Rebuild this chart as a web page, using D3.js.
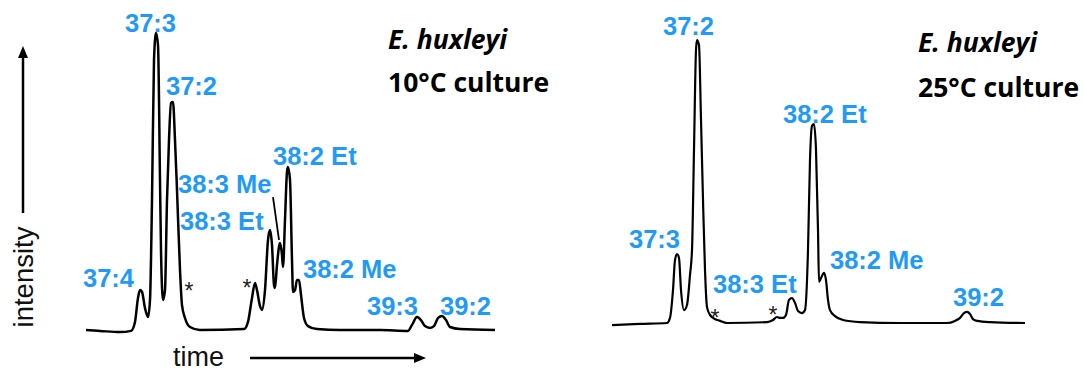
<!DOCTYPE html>
<html>
<head>
<meta charset="utf-8">
<script src="https://cdn.jsdelivr.net/npm/d3@7"></script>
<style>
  body { margin: 0; background: #fff; }
  svg { display: block; }
</style>
</head>
<body>
<div id="chart"></div>
<script>
// 10°C culture trace (time, intensity)
var coldTime = [0, 1.4, 3.4, 4.5, 4.9, 5.2, 5.4, 5.6, 5.9, 6.2, 6.4, 6.6, 6.8, 7.0, 7.2, 7.4, 7.5, 7.7, 7.9,
  8.1, 8.3, 8.5, 8.7, 8.9, 9.1, 9.4, 9.6, 9.9, 10.4, 11.4, 15.8, 16.2, 16.6, 16.9, 17.1, 17.4, 17.6,
  17.9, 18.2, 18.4, 18.6, 18.8, 18.9, 19.1, 19.4, 19.6, 19.7, 19.9, 20.1, 20.2, 20.4, 20.6, 20.7, 20.9,
  21.1, 21.3, 21.5, 21.8, 22.2, 23.1, 25.4, 29.4, 32.2, 32.6, 33.1, 33.5, 33.9, 34.4, 34.8, 35.2, 35.6,
  36.0, 36.4, 37.4, 40.9];
var coldIntensity = [0, -0.3, -0.7, -0.3, 2.7, 10.7, 13.3, 12.7, 7.3, 4.3, 10, 43.3, 90, 99, 95, 50, 26.7, 10, 13.3,
  43.3, 63.3, 75.7, 76, 63.3, 46.7, 20, 8.3, 4, 1, 0, 0.3, 2.7, 10.7, 15.7, 13.3, 8, 6.7,
  13.3, 30, 33.3, 28.3, 15, 14, 21.7, 29, 25, 21, 36.7, 52.7, 54.3, 50, 23.3, 12.7, 13.3,
  16.7, 16.7, 11.7, 4, 1.3, 0.3, 0, 0, -0.3, 1.7, 4.3, 3.3, 1.3, 0.7, 1.3, 4, 4.7,
  3.3, 1, 0.3, 0];

// 25°C culture trace (time, intensity)
var warmTime = [0, 2.8, 5.5, 5.8, 6.1, 6.3, 6.5, 6.7, 6.9, 7.2, 7.5, 7.8, 8.0, 8.2, 8.4, 8.5, 8.7, 8.9, 9.1,
  9.3, 9.5, 9.8, 10.1, 10.8, 11.5, 15.5, 16.1, 16.5, 16.8, 17.1, 17.4, 17.7, 18.0, 18.3, 18.6, 19.0,
  19.3, 19.6, 19.8, 20.0, 20.2, 20.4, 20.6, 20.7, 20.9, 21.2, 21.4, 21.6, 21.8, 22.3, 23.1, 24.8,
  28.8, 33.5, 34.3, 34.8, 35.2, 35.5, 35.8, 36.1, 36.5, 37.8, 41.3];
var warmIntensity = [-0.7, -0.3, 0, 1.7, 11, 21, 23, 21.7, 11, 4.3, 6, 16, 24.3, 57.7, 91, 94.3, 92.7, 67.7, 41,
  17.7, 5.3, 2.7, 1.7, 0.7, 0, 0.3, 1, 2, 1.7, 1.7, 2.7, 7.7, 8.3, 6.7, 4, 3.3,
  4.3, 24.3, 54.3, 65.7, 66.3, 57.7, 31, 13.7, 15, 16.7, 14.3, 7.7, 4.3, 2.3, 1, 0.3,
  0, 0, 0.7, 1.7, 3.3, 3.7, 3, 1.3, 0.7, 0.3, 0];

// peak labels
var coldLabels = ["37:4", "37:3", "37:2", "38:3 Me", "38:3 Et", "38:2 Et", "38:2 Me", "39:3", "39:2"];
var warmLabels = ["37:3", "37:2", "38:3 Et", "38:2 Et", "38:2 Me", "39:2"];

var titles = ["E. huxleyi", "10°C culture", "25°C culture"];

// label anchors in data units (start of text, baseline)
var coldLabelPos = [[-0.3, 14.3], [3.9, 99.3], [8.0, 78.3], [9.2, 45.7], [9.4, 33.3], [18.7, 55], [21.7, 17.3], [28.1, 5], [35.4, 5]];
var warmLabelPos = [[1.7, 25], [5.1, 96], [10.1, 10], [17.1, 66.7], [21.8, 18], [34.1, 5.7]];
var coldStars = [[10.3, 10.3], [16.1, 11.3]];
var warmStars = [[10.3, -1], [16.1, 0]];

var width = 1083, height = 371;
var blue = "#1f9bf7";

var svg = d3.select("#chart").append("svg")
    .attr("width", width)
    .attr("height", height);

function panel(opt) {
  var x = d3.scaleLinear().domain(opt.xDomain).range(opt.xRange);
  var y = d3.scaleLinear().domain([0, 100]).range(opt.yRange);

  var line = d3.line()
      .x(function(d) { return x(d[0]); })
      .y(function(d) { return y(d[1]); })
      .curve(d3.curveMonotoneX);

  svg.append("path")
      .datum(d3.zip(opt.time, opt.intensity))
      .attr("fill", "none")
      .attr("stroke", "#000")
      .attr("stroke-width", opt.stroke)
      .attr("stroke-linejoin", "round")
      .attr("d", line);

  svg.append("g").selectAll("text")
      .data(opt.labels)
    .enter().append("text")
      .attr("x", function(d, i) { return x(opt.labelPos[i][0]); })
      .attr("y", function(d, i) { return y(opt.labelPos[i][1]); })
      .attr("fill", blue)
      .attr("font-family", "Liberation Sans, Arial, sans-serif")
      .attr("font-weight", "bold")
      .attr("font-size", 25.5)
      .text(function(d) { return d; });

  svg.append("g").selectAll("text")
      .data(opt.stars)
    .enter().append("text")
      .attr("x", function(d) { return x(d[0]); })
      .attr("y", function(d) { return y(d[1]); })
      .attr("text-anchor", "middle")
      .attr("font-family", "Liberation Sans, Arial, sans-serif")
      .attr("font-size", 23)
      .attr("fill", "#222")
      .text("*");

  if (opt.leader) {
    svg.append("line")
        .attr("x1", x(opt.leader[0][0])).attr("y1", y(opt.leader[0][1]))
        .attr("x2", x(opt.leader[1][0])).attr("y2", y(opt.leader[1][1]))
        .attr("stroke", "#000")
        .attr("stroke-width", 1.8);
  }

  var t = svg.append("g")
      .attr("font-family", "Open Sans, sans-serif")
      .attr("font-weight", "bold")
      .attr("font-size", 26.5)
      .attr("fill", "#000");
  t.append("text")
      .attr("x", opt.titleX).attr("y", opt.titleY[0])
      .attr("font-style", "italic")
      .text(titles[0]);
  t.append("text")
      .attr("x", opt.titleX).attr("y", opt.titleY[1])
      .text(opt.subtitle);
}

panel({
  time: coldTime, intensity: coldIntensity,
  xDomain: [0, 40.9], xRange: [86, 495], yRange: [330, 30],
  stroke: 2.5,
  labels: coldLabels, labelPos: coldLabelPos, stars: coldStars,
  leader: [[18.7, 44.3], [19.3, 30]],
  titleX: 388, titleY: [49, 92], subtitle: titles[1]
});

panel({
  time: warmTime, intensity: warmIntensity,
  xDomain: [0, 41.3], xRange: [612, 1025], yRange: [323, 23],
  stroke: 2.2,
  labels: warmLabels, labelPos: warmLabelPos, stars: warmStars,
  titleX: 918, titleY: [52, 97], subtitle: titles[2]
});

// axis arrows
svg.append("line")
    .attr("x1", 23).attr("y1", 213).attr("x2", 23).attr("y2", 58)
    .attr("stroke", "#000").attr("stroke-width", 2.5);
svg.append("path")
    .attr("d", "M23,46 L18,58 L28,58 Z")
    .attr("fill", "#000");
svg.append("text")
    .attr("transform", "translate(33,277) rotate(-90)")
    .attr("text-anchor", "middle")
    .attr("font-family", "Liberation Sans, Arial, sans-serif")
    .attr("font-size", 27.5)
    .attr("fill", "#111")
    .text("intensity");

svg.append("line")
    .attr("x1", 250).attr("y1", 358).attr("x2", 414).attr("y2", 358)
    .attr("stroke", "#000").attr("stroke-width", 2.5);
svg.append("path")
    .attr("d", "M426,358 L414,353 L414,363 Z")
    .attr("fill", "#000");
svg.append("text")
    .attr("x", 173).attr("y", 366)
    .attr("font-family", "Liberation Sans, Arial, sans-serif")
    .attr("font-size", 27)
    .attr("fill", "#111")
    .text("time");
</script>
</body>
</html>
